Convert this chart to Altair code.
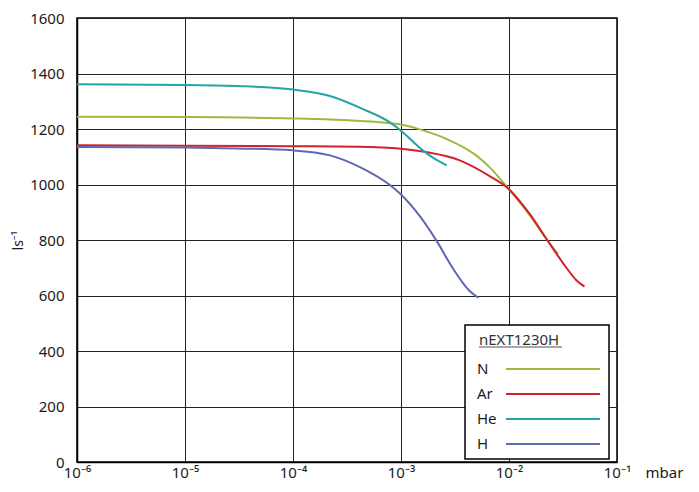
import altair as alt
import pandas as pd

# ---------------- data ----------------
series = ["N", "Ar", "He", "H"]
colors = ["#9ABB3E", "#D2202F", "#26A3A6", "#5E68B3"]
legend_title = "nEXT1230H"

n_p = [1e-6, 1e-5, 1e-4, 3e-4, 6e-4, 1e-3, 1.6e-3, 2.65e-3, 5e-3, 6.7e-3, 1e-2, 1.56e-2, 2.25e-2, 2.84e-2]
n_v = [1244, 1243, 1238, 1232, 1225, 1216, 1195, 1164, 1104, 1060, 982, 889, 800, 750]

ar_p = [1e-6, 1e-5, 1e-4, 4e-4, 1e-3, 1.7e-3, 3.5e-3, 6.5e-3, 1e-2, 1.56e-2, 2.25e-2, 3.4e-2, 4.2e-2, 5e-2]
ar_v = [1141, 1140, 1138, 1136, 1129, 1117, 1087, 1032, 983, 893, 801, 700, 655, 632]

he_p = [1e-6, 1e-5, 3e-5, 1e-4, 2.2e-4, 4.5e-4, 7.9e-4, 1e-3, 1.6e-3, 2.06e-3, 2.65e-3]
he_v = [1361, 1359, 1355, 1342, 1319, 1271, 1224, 1194, 1122, 1092, 1069]

h_p = [1e-6, 1e-5, 3e-5, 1e-4, 2.2e-4, 4.3e-4, 7.9e-4, 1e-3, 1.5e-3, 2.15e-3, 3e-3, 4.3e-3, 5.2e-3]
h_v = [1135, 1133, 1130, 1123, 1105, 1060, 998, 964, 885, 795, 700, 617, 592]

x_ticks = [1e-6, 1e-5, 1e-4, 1e-3, 1e-2, 1e-1]
x_tick_labels = ["10⁻⁶", "10⁻⁵", "10⁻⁴", "10⁻³", "10⁻²", "10⁻¹"]
y_ticks = [0, 200, 400, 600, 800, 1000, 1200, 1400, 1600]

# ---------------- build tables ----------------
rows = []
for name, ps, vs in [("N", n_p, n_v), ("Ar", ar_p, ar_v), ("He", he_p, he_v), ("H", h_p, h_v)]:
    for p, v in zip(ps, vs):
        rows.append({"series": name, "p": p, "v": v})
df = pd.DataFrame(rows)

leg_df = pd.DataFrame({"series": series})
title_df = pd.DataFrame({"title": [legend_title]})

label_expr = " : ".join(
    f"abs(log(datum.value)/LN10 - ({i})) < 0.01 ? '{lab}'"
    for i, lab in zip(range(-6, 0), x_tick_labels)
) + " : ''"

FONT = "Noto Sans"
TXT = "#1a1a1a"

color_scale = alt.Scale(domain=series, range=colors)

lines = alt.Chart(df).mark_line(strokeWidth=2, interpolate="monotone").encode(
    x=alt.X(
        "p:Q",
        scale=alt.Scale(type="log", domain=[1e-6, 1e-1], nice=False),
        axis=alt.Axis(
            values=x_ticks, labelExpr=label_expr, grid=True, gridColor="#222222",
            gridWidth=1, tickSize=0, domainColor="black", domainWidth=1.5,
            labelFont=FONT, labelFontSize=15, labelColor=TXT, labelPadding=3,
            labelFlush=False, labelOverlap=False,
            title="mbar", titleX=568, titleY=15, titleAlign="left",
            titleBaseline="alphabetic", titleFontWeight="normal",
            titleFont=FONT, titleFontSize=15, titleColor=TXT,
        ),
    ),
    y=alt.Y(
        "v:Q",
        scale=alt.Scale(domain=[0, 1600], nice=False),
        axis=alt.Axis(
            values=y_ticks, format="d", grid=True, gridColor="#222222", gridWidth=1,
            tickSize=0, domainColor="black", domainWidth=1.5,
            labelFont=FONT, labelFontSize=15, labelColor=TXT, labelPadding=13,
            labelFlush=False, labelOverlap=False,
            title="ls⁻¹", titleX=-59, titleY=222, titleAngle=270,
            titleAlign="center", titleBaseline="middle", titleFontWeight="normal",
            titleFont=FONT, titleFontSize=14, titleColor=TXT,
        ),
    ),
    color=alt.Color("series:N", scale=color_scale, legend=None),
    order=alt.Order("p:Q"),
)

box = alt.Chart(title_df).mark_rect(fill="white", stroke="black", strokeWidth=1.5).encode(
    x=alt.value(388), x2=alt.value(532), y=alt.value(307), y2=alt.value(441)
)
title_text = alt.Chart(title_df).mark_text(
    align="left", baseline="middle", font=FONT, fontSize=15, color="#333333"
).encode(x=alt.value(402), y=alt.value(322), text="title:N")
underline = alt.Chart(title_df).mark_rule(color="#555555", strokeWidth=1.2).encode(
    x=alt.value(402), x2=alt.value(485), y=alt.value(329)
)

idx_list = "[" + ",".join(f"'{s}'" for s in series) + "]"
leg_base = alt.Chart(leg_df).transform_calculate(
    ly=f"351 + 25*indexof({idx_list}, datum.series)"
)
leg_rules = leg_base.mark_rule(strokeWidth=2).encode(
    x=alt.value(429), x2=alt.value(523),
    y=alt.Y("ly:Q", scale=None),
    color=alt.Color("series:N", scale=color_scale, legend=None),
)
leg_text = leg_base.mark_text(
    align="left", baseline="middle", font=FONT, fontSize=15, color=TXT
).encode(x=alt.value(400), y=alt.Y("ly:Q", scale=None), text="series:N")

chart = alt.layer(lines, box, underline, title_text, leg_rules, leg_text).properties(
    width=540, height=444,
    padding={"left": 69, "top": 10, "right": 74, "bottom": 22},
    autosize=alt.AutoSizeParams(type="none"),
    background="white",
).configure_view(stroke="black", strokeWidth=1.5)

chart.save("out.html", embed_options={"renderer": "svg", "actions": False})
